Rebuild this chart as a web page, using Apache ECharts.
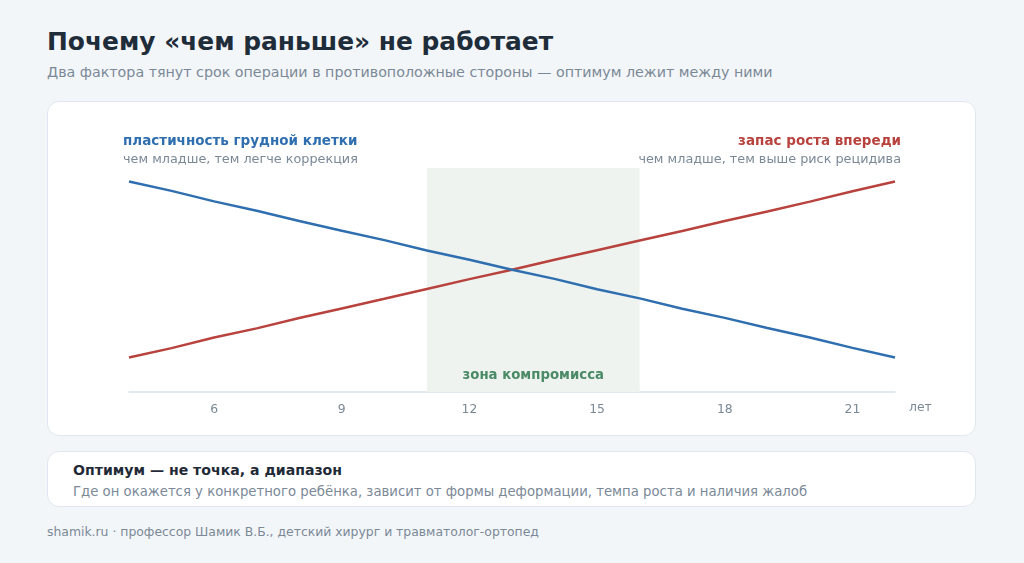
<!DOCTYPE html>
<html>
<head>
<meta charset="utf-8">
<script src="https://cdn.jsdelivr.net/npm/echarts@6/dist/echarts.min.js"></script>
<style>
  html, body { margin: 0; padding: 0; }
  body {
    width: 1024px; height: 563px; background: #f3f6f9; position: relative;
    font-family: "DejaVu Sans", sans-serif; overflow: hidden;
  }
  .title { position: absolute; left: 47px; top: 27px; font-size: 24.9px; font-weight: bold; color: #1f2d3a; }
  .sub { position: absolute; left: 47px; top: 64px; font-size: 14.25px; color: #7b8997; }
  .card { position: absolute; left: 47px; width: 929px; background: #fff; border: 1px solid #e0e7ee; border-radius: 12px; box-sizing: border-box; }
  #card1 { top: 101px; height: 335px; }
  #card2 { top: 451px; height: 56px; }
  #chart { position: absolute; left: 0; top: 0; width: 929px; height: 335px; }
  .c2t { position: absolute; left: 25px; top: 10px; font-size: 14.1px; font-weight: bold; color: #1f2a36; }
  .c2s { position: absolute; left: 25px; top: 32px; font-size: 13.25px; color: #7b8997; }
  .foot { position: absolute; left: 47px; top: 524px; font-size: 12.4px; color: #7b8997; }
</style>
</head>
<body>
<div class="title">Почему «чем раньше» не работает</div>
<div class="sub">Два фактора тянут срок операции в противоположные стороны — оптимум лежит между ними</div>
<div class="card" id="card1"><div id="chart"></div></div>
<div class="card" id="card2">
  <div class="c2t">Оптимум — не точка, а диапазон</div>
  <div class="c2s">Где он окажется у конкретного ребёнка, зависит от формы деформации, темпа роста и наличия жалоб</div>
</div>
<div class="foot">shamik.ru · профессор Шамик В.Б., детский хирург и травматолог-ортопед</div>

<script>
// возраст, лет
const ages = [4, 5, 6, 7, 8, 9, 10, 11, 12, 13, 14, 15, 16, 17, 18, 19, 20, 21, 22];
// пластичность грудной клетки
const plasticity = [94, 89.8, 85.1, 80.9, 76.3, 72, 67.8, 63.2, 59, 54.6, 50.5, 45.9, 41.8, 37.2, 33.1, 28.6, 24.3, 19.7, 15.4];
// запас роста впереди
const growth = [15.4, 19.6, 24.3, 28.4, 33, 37.3, 41.6, 46, 50.4, 54.6, 59, 63.3, 67.6, 71.9, 76.3, 80.6, 85, 89.6, 94];
const tickAges = [6, 9, 12, 15, 18, 21];
const zone = [11, 16];

const blue = '#2f6fb0';
const red = '#b8433e';
const gray = '#7b8997';

const chart = echarts.init(document.getElementById('chart'));
chart.setOption({
  animation: false,
  textStyle: { fontFamily: 'DejaVu Sans' },
  grid: { left: 81, right: 82, top: 66, bottom: 45 },
  xAxis: {
    type: 'value',
    min: 4,
    max: 22,
    axisLine: { lineStyle: { color: '#d6e2ec', width: 1.5 } },
    axisTick: { show: false },
    splitLine: { show: false },
    axisLabel: { customValues: tickAges, color: gray, fontSize: 12.4, margin: 12 }
  },
  yAxis: {
    type: 'value', min: 0, max: 100, show: false
  },
  graphic: [
    { type: 'text', left: 75, top: 32, style: { text: 'пластичность грудной клетки', fill: blue, font: 'bold 13.5px "DejaVu Sans"' } },
    { type: 'text', left: 75, top: 51, style: { text: 'чем младше, тем легче коррекция', fill: gray, font: '12.8px "DejaVu Sans"' } },
    { type: 'text', right: 76, top: 32, style: { text: 'запас роста впереди', fill: red, font: 'bold 13.5px "DejaVu Sans"', align: 'right' } },
    { type: 'text', right: 76, top: 51, style: { text: 'чем младше, тем выше риск рецидива', fill: gray, font: '12.8px "DejaVu Sans"', align: 'right' } },
    { type: 'text', left: 861, top: 300, style: { text: 'лет', fill: gray, font: '12.4px "DejaVu Sans"' } }
  ],
  series: [
    {
      name: 'пластичность',
      type: 'line',
      data: ages.map((a, i) => [a, plasticity[i]]),
      showSymbol: false,
      lineStyle: { color: blue, width: 2.5 },
      z: 3,
      markArea: {
        silent: true,
        itemStyle: { color: '#eef3ef' },
        label: {
          show: true, position: 'insideBottom', distance: 10,
          color: '#4b8a66', fontWeight: 'bold', fontSize: 13.3
        },
        data: [[{ name: 'зона компромисса', xAxis: zone[0] }, { xAxis: zone[1] }]]
      }
    },
    {
      name: 'запас роста',
      type: 'line',
      data: ages.map((a, i) => [a, growth[i]]),
      showSymbol: false,
      lineStyle: { color: red, width: 2.5 },
      z: 2
    }
  ]
});
</script>
</body>
</html>
